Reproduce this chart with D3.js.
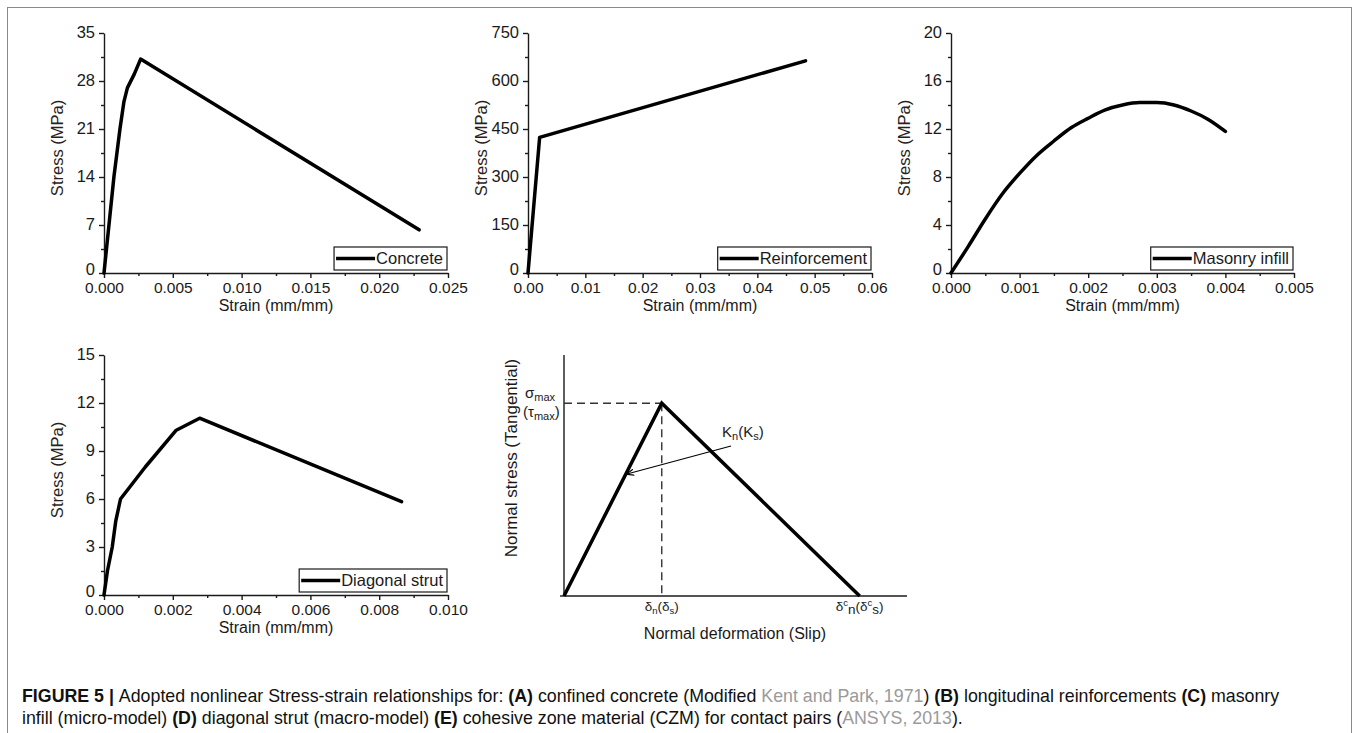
<!DOCTYPE html>
<html>
<head>
<meta charset="utf-8">
<script src="https://cdn.jsdelivr.net/npm/d3@7"></script>
<style>
  body { margin: 0; background: #fff; }
  svg { display: block; font-family: "Liberation Sans", Arial, sans-serif; }
  .tick text { fill: #1a1a1a; }
</style>
</head>
<body>
<svg id="fig" width="1356" height="733"></svg>
<script>
// ---- data ----
var concreteStrain = [0, 0.00036, 0.00072, 0.00116, 0.00145, 0.0017, 0.0022, 0.00266, 0.0229];
var concreteStress = [0, 7, 14, 21, 25, 27, 29, 31.2, 6.3];

var rebarStrain = [0, 0.00203, 0.0484];
var rebarStress = [0, 424, 663];

var masonryStrain = [0, 0.00025, 0.0005, 0.00075, 0.001, 0.00125, 0.0015, 0.00175, 0.002, 0.00225, 0.0025, 0.00275, 0.003, 0.00325, 0.0035, 0.00375, 0.004];
var masonryStress = [0, 2.2, 4.5, 6.6, 8.3, 9.8, 11.0, 12.1, 12.9, 13.6, 14.0, 14.2, 14.2, 14.0, 13.5, 12.8, 11.8];

var strutStrain = [0, 0.0001, 0.00024, 0.00034, 0.00048, 0.0012, 0.0021, 0.00278, 0.00865];
var strutStress = [0, 1.5, 3.0, 4.6, 6.0, 8.0, 10.3, 11.05, 5.83];

// schematic CZM law (normalised units)
var czmDeform = [0, 0.285, 0.862];
var czmStress = [0, 0.8, 0];

var xTicksA = [0, 0.005, 0.010, 0.015, 0.020, 0.025];
var yTicksA = [0, 7, 14, 21, 28, 35];
var xTicksB = [0, 0.01, 0.02, 0.03, 0.04, 0.05, 0.06];
var yTicksB = [0, 150, 300, 450, 600, 750];
var xTicksC = [0, 0.001, 0.002, 0.003, 0.004, 0.005];
var yTicksC = [0, 4, 8, 12, 16, 20];
var xTicksD = [0, 0.002, 0.004, 0.006, 0.008, 0.010];
var yTicksD = [0, 3, 6, 9, 12, 15];

var legendNames = ["Concrete", "Reinforcement", "Masonry infill", "Diagonal strut"];

var svg = d3.select("#fig");
var ink = "#1a1a1a";

// frame round the whole figure
svg.append("rect").attr("x", 7.5).attr("y", 7.5).attr("width", 1344).attr("height", 740)
  .attr("fill", "none").attr("stroke", "#8a8a8a").attr("stroke-width", 1);

function zip(a, b) { return a.map(function (v, i) { return [v, b[i]]; }); }

function drawPanel(p) {
  var g = svg.append("g");
  var x = d3.scaleLinear().domain(p.xDomain).range([p.left, p.right]);
  var y = d3.scaleLinear().domain(p.yDomain).range([p.bottom, p.top]);

  // minor ticks (half steps)
  var xMinor = p.xTicks.slice(1).map(function (t, i) { return (t + p.xTicks[i]) / 2; });
  var yMinor = p.yTicks.slice(1).map(function (t, i) { return (t + p.yTicks[i]) / 2; });

  var xAxis = d3.axisBottom(x).tickValues(p.xTicks).tickFormat(d3.format(p.xFmt)).tickSize(5).tickSizeOuter(0).tickPadding(4);
  var yAxis = d3.axisLeft(y).tickValues(p.yTicks).tickFormat(d3.format("d")).tickSize(5).tickSizeOuter(0).tickPadding(4);

  var gx = g.append("g").attr("transform", "translate(0," + p.bottom + ")").call(xAxis);
  var gy = g.append("g").attr("transform", "translate(" + p.left + ",0)").call(yAxis);
  g.append("g").attr("transform", "translate(0," + p.bottom + ")")
    .call(d3.axisBottom(x).tickValues(xMinor).tickFormat("").tickSize(3).tickSizeOuter(0))
    .select(".domain").remove();
  g.append("g").attr("transform", "translate(" + p.left + ",0)")
    .call(d3.axisLeft(y).tickValues(yMinor).tickFormat("").tickSize(3).tickSizeOuter(0))
    .select(".domain").remove();

  g.selectAll(".domain, .tick line").attr("stroke", ink).attr("stroke-width", 1.4);
  gx.selectAll(".tick text").style("font-size", "15.5px");
  gy.selectAll(".tick text").style("font-size", "16.5px")
    .attr("dy", function (d) { return d === 0 ? "0.12em" : "0.3em"; });

  // axis titles
  g.append("text").attr("x", (p.left + p.right) / 2).attr("y", p.bottom + 38)
    .attr("text-anchor", "middle").style("font-size", "16px").attr("fill", ink)
    .text("Strain (mm/mm)");
  g.append("text").attr("transform", "translate(" + (p.left - 41) + "," + ((p.top + p.bottom) / 2 - 5) + ") rotate(-90)")
    .attr("text-anchor", "middle").style("font-size", "16.5px").attr("fill", "#2a1f1a")
    .text("Stress (MPa)");

  // the curve
  var line = d3.line().x(function (d) { return x(d[0]); }).y(function (d) { return y(d[1]); });
  if (p.curve) line.curve(p.curve);
  g.append("path").datum(zip(p.xs, p.ys)).attr("d", line)
    .attr("fill", "none").attr("stroke", "#000").attr("stroke-width", 3.5)
    .attr("stroke-linejoin", "round").attr("stroke-linecap", "round");

  // legend box in the lower right corner
  var lg = g.append("g");
  var lt = lg.append("text").attr("y", p.bottom - 9).style("font-size", "16.5px").attr("fill", ink).text(p.name);
  var tw = lt.node().getComputedTextLength();
  var bx1 = p.right - 1, bx0 = bx1 - tw - 46;
  lt.attr("x", bx0 + 42);
  lg.insert("rect", "text").attr("x", bx0).attr("y", p.bottom - 26).attr("width", bx1 - bx0).attr("height", 23)
    .attr("fill", "#fff").attr("stroke", ink).attr("stroke-width", 1.2);
  lg.append("line").attr("x1", bx0 + 2).attr("x2", bx0 + 41).attr("y1", p.bottom - 14.5).attr("y2", p.bottom - 14.5)
    .attr("stroke", "#000").attr("stroke-width", 3.5);
}

drawPanel({ left: 104, right: 448, top: 33, bottom: 273, xDomain: [0, 0.025], yDomain: [0, 35],
  xTicks: xTicksA, yTicks: yTicksA, xFmt: ".3f", xs: concreteStrain, ys: concreteStress, name: legendNames[0] });
drawPanel({ left: 528, right: 872, top: 33, bottom: 273, xDomain: [0, 0.06], yDomain: [0, 750],
  xTicks: xTicksB, yTicks: yTicksB, xFmt: ".2f", xs: rebarStrain, ys: rebarStress, name: legendNames[1] });
drawPanel({ left: 951, right: 1294, top: 33, bottom: 273, xDomain: [0, 0.005], yDomain: [0, 20],
  xTicks: xTicksC, yTicks: yTicksC, xFmt: ".3f", xs: masonryStrain, ys: masonryStress, name: legendNames[2], curve: d3.curveMonotoneX });
drawPanel({ left: 104, right: 448, top: 355, bottom: 595, xDomain: [0, 0.010], yDomain: [0, 15],
  xTicks: xTicksD, yTicks: yTicksD, xFmt: ".3f", xs: strutStrain, ys: strutStress, name: legendNames[3] });

// ---- panel E: cohesive zone schematic ----
(function () {
  var g = svg.append("g");
  var x = d3.scaleLinear().domain([0, 1]).range([564, 907]);
  var y = d3.scaleLinear().domain([0, 1]).range([596, 355]);

  g.append("line").attr("x1", x(0)).attr("x2", x(0)).attr("y1", y(0)).attr("y2", y(1)).attr("stroke", ink).attr("stroke-width", 1.4);
  g.append("line").attr("x1", x(0)).attr("x2", x(1)).attr("y1", y(0)).attr("y2", y(0)).attr("stroke", ink).attr("stroke-width", 1.4);
  g.append("line").attr("x1", x(0) - 4).attr("x2", x(0)).attr("y1", y(0)).attr("y2", y(0)).attr("stroke", ink).attr("stroke-width", 1.4);

  var pk = [czmDeform[1], czmStress[1]];
  g.append("line").attr("x1", x(0)).attr("x2", x(pk[0])).attr("y1", y(pk[1])).attr("y2", y(pk[1]))
    .attr("stroke", "#333").attr("stroke-width", 1.4).attr("stroke-dasharray", "8,5");
  g.append("line").attr("x1", x(pk[0])).attr("x2", x(pk[0])).attr("y1", y(pk[1])).attr("y2", y(0))
    .attr("stroke", "#333").attr("stroke-width", 1.4).attr("stroke-dasharray", "8,5");

  var line = d3.line().x(function (d) { return x(d[0]); }).y(function (d) { return y(d[1]); });
  g.append("path").datum(zip(czmDeform, czmStress)).attr("d", line)
    .attr("fill", "none").attr("stroke", "#000").attr("stroke-width", 3.5).attr("stroke-linejoin", "miter");

  // pointer for the stiffness label
  svg.append("defs").append("marker").attr("id", "arr").attr("viewBox", "0 0 10 10")
    .attr("refX", 9).attr("refY", 5).attr("markerWidth", 7).attr("markerHeight", 7).attr("orient", "auto")
    .append("path").attr("d", "M0,1 L10,5 L0,9").attr("fill", "none").attr("stroke", "#000").attr("stroke-width", 1.5);
  g.append("line").attr("x1", 731).attr("y1", 446).attr("x2", 627).attr("y2", 474)
    .attr("stroke", "#000").attr("stroke-width", 1.1).attr("marker-end", "url(#arr)");

  function sub(t, parts, fs) {
    parts.forEach(function (s) {
      var ts = t.append("tspan").text(s[0]);
      if (s[1] === "sub") ts.attr("dy", 3).style("font-size", (fs - 4) + "px");
      else if (s[1] === "sup") ts.attr("dy", -5).style("font-size", (fs - 4) + "px");
      else if (s[1] === "back") ts.attr("dy", s[2]);
    });
  }

  var t1 = g.append("text").attr("x", 525).attr("y", 398).style("font-size", "15px").attr("fill", ink);
  sub(t1, [["σ"], ["max", "sub"]], 15);
  var t2 = g.append("text").attr("x", 523).attr("y", 417).style("font-size", "15px").attr("fill", ink);
  sub(t2, [["(τ"], ["max", "sub"], [")", "back", -3]], 15);
  var t3 = g.append("text").attr("x", 722).attr("y", 437).style("font-size", "15px").attr("fill", ink);
  sub(t3, [["K"], ["n", "sub"], ["(K", "back", -3], ["s", "sub"], [")", "back", -3]], 15);
  var t4 = g.append("text").attr("x", x(pk[0])).attr("y", 611).attr("text-anchor", "middle").style("font-size", "13.5px").attr("fill", ink);
  sub(t4, [["δ"], ["n", "sub"], ["(δ", "back", -3], ["s", "sub"], [")", "back", -3]], 13.5);
  var t5 = g.append("text").attr("x", x(czmDeform[2])).attr("y", 611).attr("text-anchor", "middle").style("font-size", "13.5px").attr("fill", ink);
  sub(t5, [["δ"], ["c", "sup"], ["n", "back", 8], ["(δ", "back", -3], ["c", "sup"], ["s", "back", 8], [")", "back", -3]], 13.5);

  g.append("text").attr("x", 735).attr("y", 639).attr("text-anchor", "middle").style("font-size", "16px").attr("fill", ink)
    .text("Normal deformation (Slip)");
  g.append("text").attr("transform", "translate(517,458) rotate(-90)").attr("text-anchor", "middle")
    .style("font-size", "17px").attr("fill", ink).text("Normal stress (Tangential)");
})();

// ---- caption ----
var captionLines = [
  [["FIGURE 5 | ", "b"], ["Adopted nonlinear Stress-strain relationships for: "], ["(A)", "b"], [" confined concrete (Modified "],
   ["Kent and Park, 1971", "l"], [") "], ["(B)", "b"], [" longitudinal reinforcements "], ["(C)", "b"], [" masonry"]],
  [["infill (micro-model) "], ["(D)", "b"], [" diagonal strut (macro-model) "], ["(E)", "b"],
   [" cohesive zone material (CZM) for contact pairs ("], ["ANSYS, 2013", "l"], [")."]]
];
captionLines.forEach(function (parts, i) {
  var t = svg.append("text").attr("x", 22).attr("y", 702 + i * 22).style("font-size", "17.8px").attr("fill", "#111")
    .style("font-family", "'Liberation Sans', Arial, sans-serif");
  parts.forEach(function (p) {
    var ts = t.append("tspan").text(p[0]);
    if (p[1] === "b") ts.style("font-weight", "bold");
    if (p[1] === "l") ts.attr("fill", "#9a9a9a");
  });
});
</script>
</body>
</html>
